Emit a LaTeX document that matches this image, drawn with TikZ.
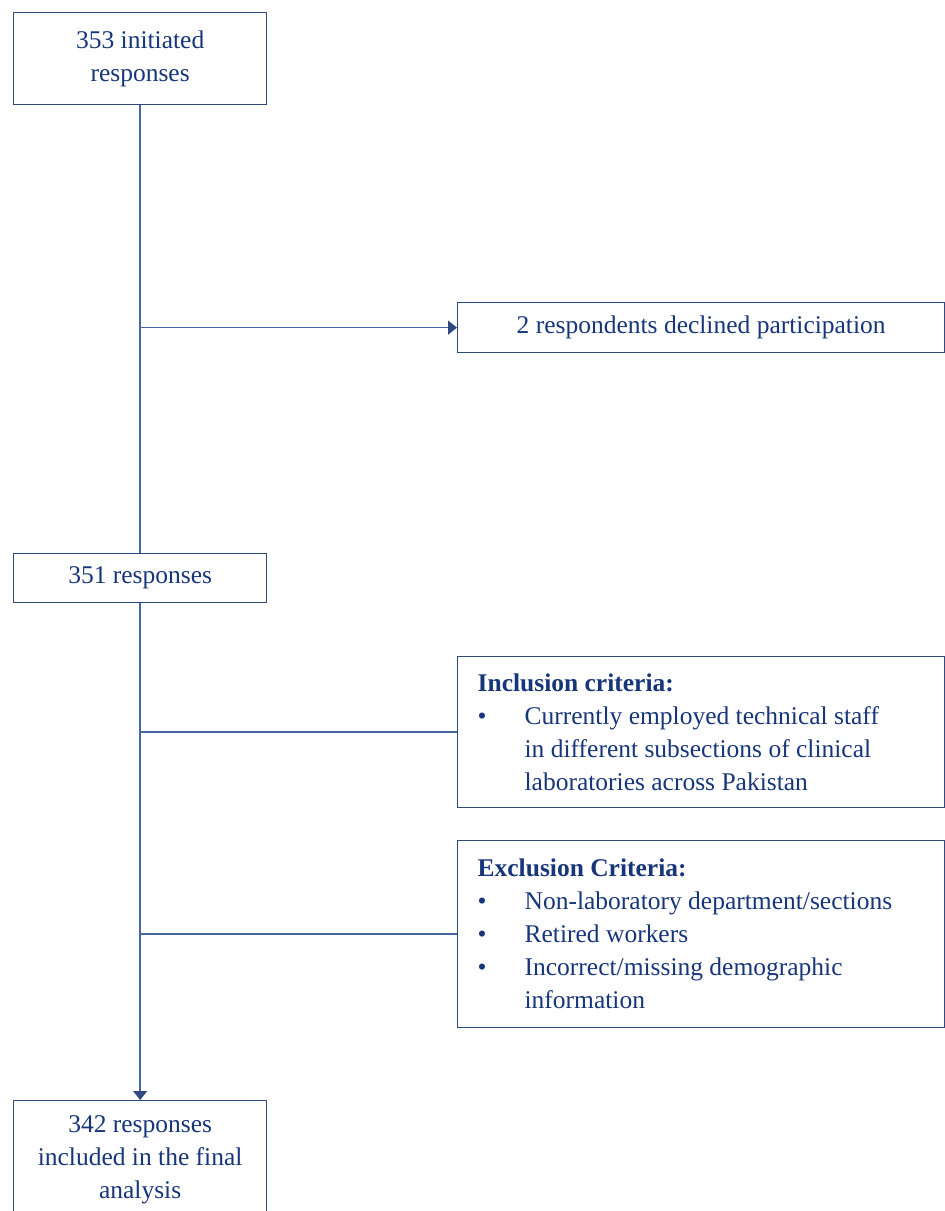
\documentclass[tikz,border=0pt]{standalone}
\usepackage{fontspec}
\setmainfont{Liberation Serif}
\usepackage{xcolor}
\usetikzlibrary{arrows.meta, positioning}

\definecolor{navytext}{HTML}{17367A}
\definecolor{navybox}{HTML}{2E4A80}
\definecolor{navyline}{HTML}{4767A2}

\begin{document}
\begin{tikzpicture}[x=1pt, y=-1pt,
    flowbox/.style={draw=navybox, line width=1.3pt, text=navytext, align=center,
        font=\fontsize{25.5}{33}\selectfont, inner sep=0pt, anchor=north west},
    leftbox/.style={flowbox, minimum width=253pt},
    critbox/.style={flowbox, align=flush left, text width=447pt, inner xsep=20pt},
    link/.style={navyline, line width=1.5pt},
    tip/.style={-{Triangle[length=9pt, width=14pt, color=navybox]}}]

    % Page frame
    \useasboundingbox (0,0) rectangle (945,1211);
    \clip (0,0) rectangle (945,1211);

    % Main column
    \node[leftbox, minimum height=92pt] (init) at (13,12) {353 initiated\\responses};
    \node[leftbox, minimum height=49pt] (resp) at (13,553) {351 responses};
    \node[leftbox, minimum height=118pt] (final) at (13,1100) {342 responses\\included in the final\\analysis};

    % Side boxes
    \node[flowbox, minimum width=487pt, minimum height=50pt] (decl) at (457,302)
        {2 respondents declined participation};
    \node[critbox, minimum height=151pt] (incl) at (457,656)
        {\textbf{Inclusion criteria:}\\
         \makebox[47pt][l]{\textbullet}Currently employed technical staff\\
         \hspace*{47pt}in different subsections of clinical\\
         \hspace*{47pt}laboratories across Pakistan};
    \node[critbox, minimum height=187pt] (excl) at (457,840)
        {\textbf{Exclusion Criteria:}\\
         \makebox[47pt][l]{\textbullet}Non-laboratory department/sections\\
         \makebox[47pt][l]{\textbullet}Retired workers\\
         \makebox[47pt][l]{\textbullet}Incorrect/missing demographic\\
         \hspace*{47pt}information};

    % Connectors
    \draw[link] (init.south) -- (resp.north);
    \draw[link, tip] (init.south |- decl.west) -- (decl.west);
    \draw[link, tip] (resp.south) -- (final.north);
    \draw[link] (resp.south |- incl.west) -- (incl.west);
    \draw[link] (resp.south |- excl.west) -- (excl.west);
\end{tikzpicture}
\end{document}
